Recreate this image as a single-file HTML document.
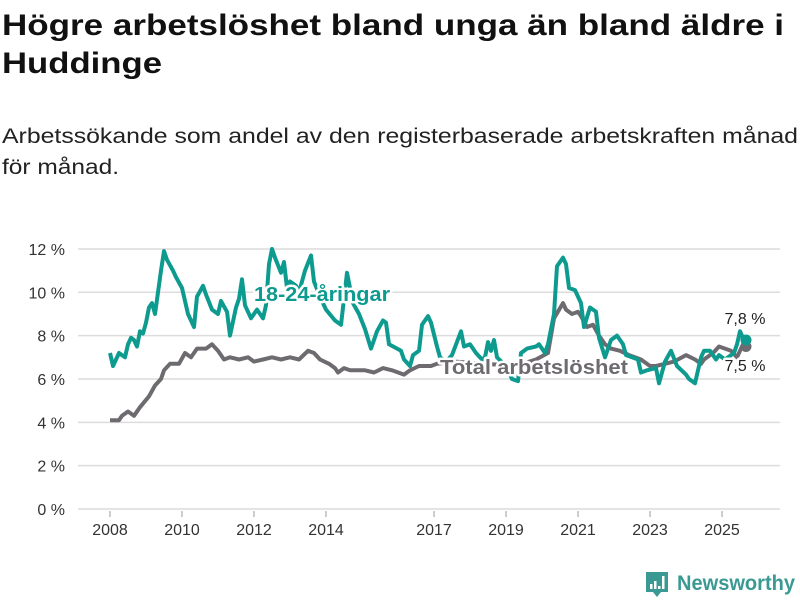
<!DOCTYPE html>
<html><head><meta charset="utf-8">
<style>
body{margin:0;background:#fff;width:800px;height:600px;overflow:hidden;font-family:"Liberation Sans","DejaVu Sans",sans-serif;}
svg text{font-family:"Liberation Sans","DejaVu Sans",sans-serif;}
</style></head>
<body>
<svg id="chart" width="800" height="600" xmlns="http://www.w3.org/2000/svg">
<text x="2" y="35" font-size="30" font-weight="bold" fill="#111" textLength="782" lengthAdjust="spacingAndGlyphs">Högre arbetslöshet bland unga än bland äldre i</text>
<text x="2" y="73" font-size="30" font-weight="bold" fill="#111" textLength="160" lengthAdjust="spacingAndGlyphs">Huddinge</text>
<text x="2" y="143" font-size="21" fill="#222" textLength="796" lengthAdjust="spacingAndGlyphs">Arbetssökande som andel av den registerbaserade arbetskraften månad</text>
<text x="2" y="174" font-size="21" fill="#222" textLength="117" lengthAdjust="spacingAndGlyphs">för månad.</text>
<g id="grid"></g>
<g id="yticks"></g>
<g id="xticks"></g>
<g id="series"></g>
<g>
<path d="M646 572 h22 v20 h-7 l-4 5 l-4 -5 h-7 z" fill="#3a9a93"/>
<rect x="650" y="584" width="2.5" height="5" fill="#fff"/><rect x="654" y="581" width="2.5" height="8" fill="#fff"/><rect x="658" y="586" width="2.5" height="3" fill="#fff"/><rect x="662" y="576" width="2.5" height="13" fill="#fff"/>
<text x="677" y="590" font-size="21" font-weight="bold" fill="#3a9a93" textLength="118" lengthAdjust="spacingAndGlyphs">Newsworthy</text>
</g>
</svg>
<script>
const yTicks=[0,2,4,6,8,10,12];
const xTickYears=[2008,2010,2012,2014,2017,2019,2021,2023,2025];
const youthMonths=[0,1,3,5,6,7,8,9,10,11,12,13,14,15,17,18,19,21,22,24,26,28,29,31,32,34,36,37,39,40,42,43,44,45,47,49,51,52,53,54,55,57,58,59,60,62,63,65,67,68,70,72,75,77,79,81,83,85,87,89,91,92,93,97,98,100,101,103,104,106,107,109,110,112,114,117,118,120,122,124,125,126,127,128,129,132,134,136,137,139,142,143,145,146,148,149,151,152,153,155,157,158,160,162,163,165,167,169,171,172,174,176,177,179,182,183,185,187,189,192,193,195,197,198,200,202,203,205,208,209,210,211,212];
const youthValues=[7.2,6.6,7.2,7.0,7.6,7.9,7.8,7.5,8.2,8.1,8.6,9.3,9.5,9.0,11.0,11.9,11.5,11.0,10.7,10.2,9.0,8.4,9.8,10.3,9.9,9.2,9.0,9.6,9.1,8.0,9.3,9.7,10.6,9.4,8.8,9.2,8.8,9.4,11.3,12.0,11.6,10.9,11.4,10.2,10.5,10.3,10.0,11.0,11.7,10.5,9.8,9.2,8.7,8.5,10.9,9.5,9.0,8.3,7.4,8.2,8.7,8.6,7.6,7.3,6.9,6.6,7.1,7.3,8.5,8.9,8.6,7.5,7.0,6.8,7.1,8.2,7.5,7.6,7.2,6.9,7.0,7.7,7.3,7.8,7.0,6.6,6.0,5.9,7.2,7.4,7.5,7.6,7.2,7.6,9.0,11.2,11.6,11.3,10.2,10.1,9.5,8.4,9.3,9.1,7.9,7.0,7.8,8.0,7.6,7.1,7.0,6.9,6.3,6.4,6.5,5.8,6.8,7.3,6.6,6.2,6.0,5.8,7.0,7.3,7.3,6.9,7.1,6.9,7.2,7.6,8.2,7.9,7.8];
const totalMonths=[0,3,4,6,8,10,13,15,17,18,20,23,25,27,29,32,34,36,38,40,43,46,48,51,54,57,60,63,66,68,70,73,75,76,78,80,85,88,91,94,98,100,103,107,109,115,125,135,142,146,148,151,152,154,156,157,159,161,163,165,167,170,173,177,180,182,185,188,192,195,197,198,201,203,205,207,209,211,212];
const totalValues=[4.1,4.1,4.3,4.5,4.3,4.7,5.2,5.7,6.0,6.4,6.7,6.7,7.2,7.0,7.4,7.4,7.6,7.3,6.9,7.0,6.9,7.0,6.8,6.9,7.0,6.9,7.0,6.9,7.3,7.2,6.9,6.7,6.5,6.3,6.5,6.4,6.4,6.3,6.5,6.4,6.2,6.4,6.6,6.6,6.7,6.8,6.7,6.6,6.9,7.2,8.8,9.5,9.2,9.0,9.1,8.9,8.4,8.5,8.0,7.6,7.4,7.3,7.1,6.9,6.6,6.6,6.7,6.8,7.1,6.9,6.7,6.9,7.2,7.5,7.4,7.3,7.0,7.6,7.5];
const youthLast=7.8, totalLast=7.5;

const NS="http://www.w3.org/2000/svg";
const y0=509, pxPerPct=21.67, x0=110, pxPerMonth=3;
const ys=v=>y0-v*pxPerPct;
const xs=m=>x0+m*pxPerMonth;
const xYear=yr=>xs((yr-2008)*12);
function mk(tag,attrs,parent){const e=document.createElementNS(NS,tag);for(const k in attrs)e.setAttribute(k,attrs[k]);parent.appendChild(e);return e;}
const grid=document.getElementById('grid'),yt=document.getElementById('yticks'),xt=document.getElementById('xticks'),ser=document.getElementById('series');
yTicks.forEach(v=>{
  const l=mk('line',{x1:78,x2:780,y1:ys(v),y2:ys(v),stroke:'#dcdcdc','stroke-width':1.5},grid);
  
  
  const t=mk('text',{x:65,y:ys(v)+6,'font-size':16,'text-anchor':'end',fill:'#333'},yt);
  t.textContent=v+' %';
  
  
});
xTickYears.forEach(yr=>{
  const x=xYear(yr);
  const l=mk('line',{x1:x,x2:x,y1:511,y2:517,stroke:'#999','stroke-width':1},xt);
  
  
  const t=mk('text',{x:x,y:535,'font-size':16,'text-anchor':'middle',fill:'#333'},xt);
  t.textContent=yr;
  
  
});
function path(ms,vs){return ms.map((m,i)=>(i?'L':'M')+xs(m).toFixed(1)+' '+ys(vs[i]).toFixed(1)).join(' ');}
const gp=mk('path',{d:path(totalMonths,totalValues),fill:'none',stroke:'#6e6b70','stroke-width':4,'stroke-linejoin':'round'},ser);


const tp=mk('path',{d:path(youthMonths,youthValues),fill:'none',stroke:'#0d9a8f','stroke-width':4,'stroke-linejoin':'round'},ser);


const lm=totalMonths[totalMonths.length-1];
const gd=mk('circle',{cx:xs(lm),cy:ys(totalLast),r:5.5,fill:'#6e6b70'},ser);


const td=mk('circle',{cx:xs(lm),cy:ys(youthLast),r:5.5,fill:'#0d9a8f'},ser);


function lab(txt,x,y,size,weight,fill,name,anchor,len){
  const t=mk('text',{x:x,y:y,'font-size':size,'font-weight':weight,fill:fill,stroke:'#fff','stroke-width':5,'paint-order':'stroke','stroke-linejoin':'round','text-anchor':anchor||'start'},ser);
  if(len){t.setAttribute('textLength',len);t.setAttribute('lengthAdjust','spacingAndGlyphs');}
  t.textContent=txt;
  
  
}
lab('18-24-åringar',254,301,20,'bold','#0d9a8f','youth-series-label','start',136);
lab('Total arbetslöshet',440,374,20,'bold','#6e6b70','total-series-label','start',188);
lab('7,8 %',745,324,16,'normal','#222','youth-end-value','middle');
lab('7,5 %',745,371,16,'normal','#222','total-end-value','middle');
</script>
</body></html>
